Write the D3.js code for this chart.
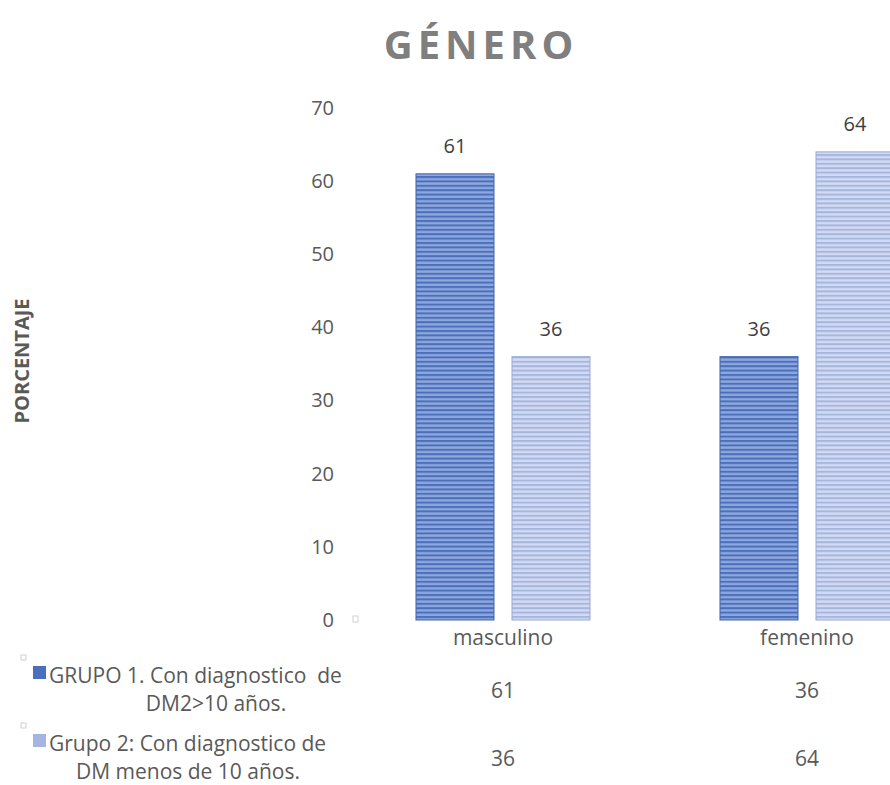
<!DOCTYPE html>
<html>
<head>
<meta charset="utf-8">
<script src="https://cdn.jsdelivr.net/npm/d3@7"></script>
<style>
  body { margin: 0; background: #fff; }
  svg { display: block; font-family: "Open Sans", "Noto Sans", sans-serif; }
  text { white-space: pre; }
</style>
</head>
<body>
<svg width="890" height="785"></svg>
<script>
// Data
const categories = ['masculino', 'femenino']
const grupo1 = [61, 36]
const grupo2 = [36, 64]
const yTicks = [0, 10, 20, 30, 40, 50, 60, 70]

const series = [
    { key: 'g1', values: grupo1, lines: ['GRUPO 1. Con diagnostico  de', 'DM2>10 años.'] },
    { key: 'g2', values: grupo2, lines: ['Grupo 2: Con diagnostico de', 'DM menos de 10 años.'] }
]

// Set up
const svg = d3.select('svg')
const defs = svg.append('defs')

function stripes(id, dark, light) {
    const p = defs.append('pattern')
        .attr('id', id)
        .attr('patternUnits', 'userSpaceOnUse')
        .attr('width', 8).attr('height', 4.4)
    p.append('rect').attr('width', 8).attr('height', 4.4).attr('fill', light)
    p.append('rect').attr('y', 0).attr('width', 8).attr('height', 2).attr('fill', dark)
}
stripes('pat-g1', '#4a6fbd', '#8fa8dc')
stripes('pat-g2', '#a7b6e0', '#d3dbf1')
const fills = { g1: 'url(#pat-g1)', g2: 'url(#pat-g2)' }
const strokes = { g1: '#3f63ad', g2: '#9aa8d6' }
const keyFills = { g1: '#4a6fbd', g2: '#a5b4e0' }

const y = d3.scaleLinear().domain([0, 70]).range([620, 108])

const x = d3.scaleBand().domain(categories).range([351, 959]).padding(0)
const xInner = d3.scaleBand()
    .domain(series.map(s => s.key))
    .range([0, x.bandwidth()])
    .paddingInner(0.1875)
    .paddingOuter(0.677)

// Title
svg.append('text')
    .attr('x', 481).attr('y', 59)
    .attr('text-anchor', 'middle')
    .style('font-size', '40px')
    .style('font-weight', 'bold')
    .style('letter-spacing', '5px')
    .style('fill', '#7f7f7f')
    .text('GÉNERO')

// Y axis title
svg.append('text')
    .attr('transform', 'translate(29,361) rotate(-90)')
    .attr('text-anchor', 'middle')
    .style('font-size', '20px')
    .style('font-weight', 'bold')
    .style('fill', '#595959')
    .text('PORCENTAJE')

// Y axis labels
const yAxis = svg.append('g')
    .attr('transform', 'translate(334,0)')
    .call(d3.axisLeft(y).tickValues(yTicks).tickSize(0).tickPadding(0))
yAxis.select('.domain').remove()
yAxis.selectAll('text')
    .style('font-family', '"Open Sans", "Noto Sans", sans-serif')
    .style('font-size', '20px')
    .style('fill', '#595959')

// small marker at the axis origin
svg.append('rect')
    .attr('x', 353).attr('y', 616).attr('width', 5).attr('height', 6)
    .attr('fill', 'none').attr('stroke', '#d0d0d0').attr('stroke-width', 1)

// Bars
const groups = svg.selectAll('g.cat')
    .data(categories)
    .join('g')
    .attr('class', 'cat')
    .attr('transform', d => `translate(${x(d)},0)`)

groups.selectAll('rect')
    .data((d, i) => series.map(s => ({ key: s.key, value: s.values[i] })))
    .join('rect')
    .attr('x', d => xInner(d.key))
    .attr('y', d => y(d.value))
    .attr('width', xInner.bandwidth())
    .attr('height', d => y(0) - y(d.value))
    .attr('fill', d => fills[d.key])
    .attr('stroke', d => strokes[d.key])
    .attr('stroke-width', 1)

groups.selectAll('text.lbl')
    .data((d, i) => series.map(s => ({ key: s.key, value: s.values[i] })))
    .join('text')
    .attr('class', 'lbl')
    .attr('x', d => xInner(d.key) + xInner.bandwidth() / 2)
    .attr('y', d => y(d.value) - 21)
    .attr('text-anchor', 'middle')
    .style('font-size', '20px')
    .style('fill', '#404040')
    .text(d => d.value)

// Category labels
svg.selectAll('text.cat')
    .data(categories)
    .join('text')
    .attr('class', 'cat')
    .attr('x', d => x(d) + x.bandwidth() / 2)
    .attr('y', 645)
    .attr('text-anchor', 'middle')
    .style('font-size', '21px')
    .style('fill', '#595959')
    .text(d => d)

// Data table
const rowY = [690, 758]
series.forEach((s, si) => {
    const base = rowY[si] - 7
    svg.append('rect')
        .attr('x', 21).attr('y', base - 28).attr('width', 5).attr('height', 5)
        .attr('fill', 'none').attr('stroke', '#d0d0d0')
    svg.append('rect')
        .attr('x', 33).attr('y', base - 17).attr('width', 13).attr('height', 13)
        .attr('fill', keyFills[s.key])
    svg.append('text')
        .attr('x', 49).attr('y', base)
        .style('font-size', '21px').style('fill', '#595959')
        .text(s.lines[0])
    svg.append('text')
        .attr('x', si === 0 ? 216 : 188).attr('y', base + 28)
        .attr('text-anchor', 'middle')
        .style('font-size', '21px').style('fill', '#595959')
        .text(s.lines[1])
    svg.selectAll(null)
        .data(categories)
        .join('text')
        .attr('x', d => x(d) + x.bandwidth() / 2)
        .attr('y', rowY[si] + 8)
        .attr('text-anchor', 'middle')
        .style('font-size', '21px').style('fill', '#595959')
        .text((d, i) => s.values[i])
})
</script>
</body>
</html>
